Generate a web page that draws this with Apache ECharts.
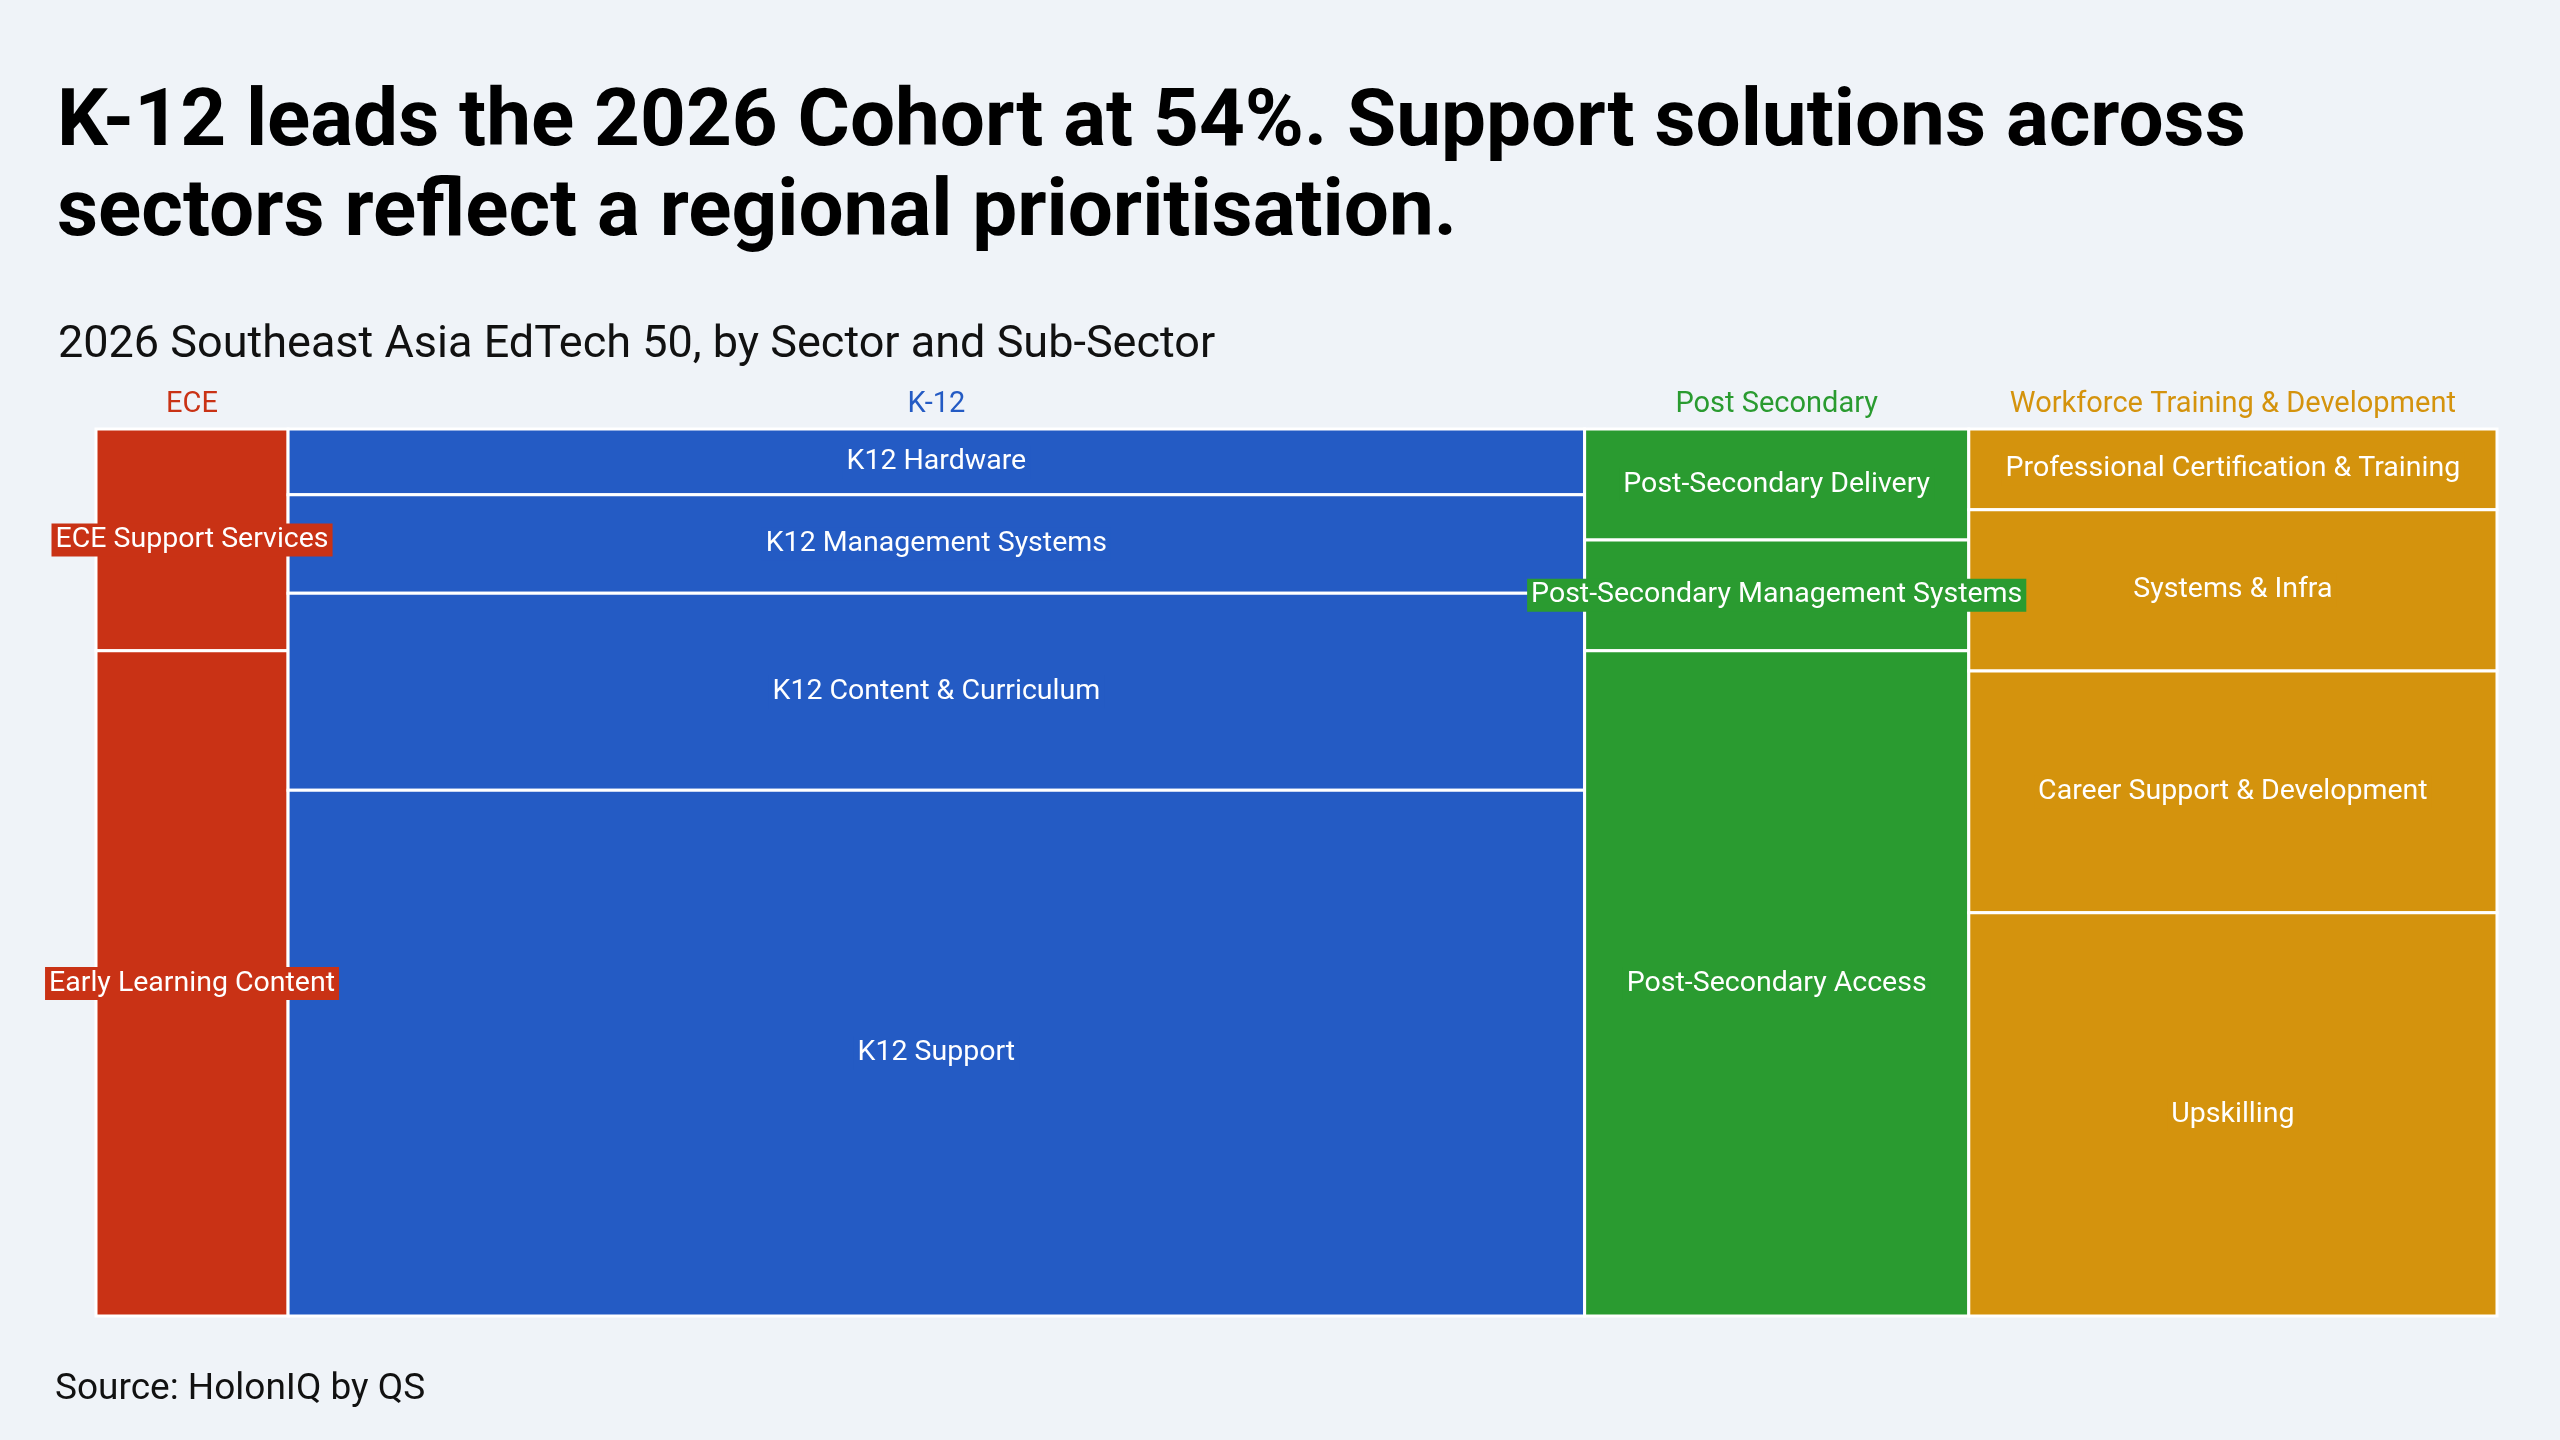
<!DOCTYPE html>
<html>
<head>
<meta charset="utf-8">
<script src="https://cdn.jsdelivr.net/npm/echarts@6/dist/echarts.min.js"></script>
<style>
  html, body { margin: 0; padding: 0; background: #eff3f8; }
  #chart { width: 2560px; height: 1440px; }
</style>
</head>
<body>
<div id="chart"></div>
<script>
// sectors of the cohort, left to right
const sectors = ['ECE', 'K-12', 'Post Secondary', 'Workforce Training & Development'];

// sub-sectors of each sector, top to bottom
const subSectors = [
  ['ECE Support Services', 'Early Learning Content'],
  ['K12 Hardware', 'K12 Management Systems', 'K12 Content & Curriculum', 'K12 Support'],
  ['Post-Secondary Delivery', 'Post-Secondary Management Systems', 'Post-Secondary Access'],
  ['Professional Certification & Training', 'Systems & Infra', 'Career Support & Development', 'Upskilling']
];

// number of companies in each sub-sector (50 in total)
const subCounts = [
  [1, 3],
  [2, 3, 6, 16],
  [1, 1, 6],
  [1, 2, 3, 5]
];

const SECTOR_COLORS = ['#c93215', '#245bc4', '#2a9b30', '#d4930d'];
const FONT = 'Roboto, "Noto Sans", sans-serif';

// marimekko cells: [x0, x1, y0, y1, sectorIndex, name]
const cells = [];
const sectorSpans = [];
let xStart = 0;
sectors.forEach((s, i) => {
  const total = subCounts[i].reduce((a, b) => a + b, 0);
  let yStart = 0;
  subCounts[i].forEach((c, j) => {
    cells.push([xStart, xStart + total, yStart / total, (yStart + c) / total, i, subSectors[i][j]]);
    yStart += c;
  });
  sectorSpans.push([xStart, xStart + total, i]);
  xStart += total;
});
const grandTotal = xStart;

const chart = echarts.init(document.getElementById('chart'), null, { renderer: 'canvas' });

chart.setOption({
  backgroundColor: '#eff3f8',
  animation: false,
  title: [
    {
      text: 'K-12 leads the 2026 Cohort at 54%. Support solutions across\nsectors reflect a regional prioritisation.',
      left: 52,
      top: 75,
      textStyle: { fontFamily: FONT, fontWeight: 'bold', fontSize: 80, lineHeight: 90, color: '#000' }
    },
    {
      text: '2026 Southeast Asia EdTech 50, by Sector and Sub-Sector',
      left: 53,
      top: 316,
      textStyle: { fontFamily: FONT, fontWeight: 'normal', fontSize: 45, lineHeight: 50, color: '#111' }
    },
    {
      text: 'Source: HolonIQ by QS',
      left: 50,
      top: 1363,
      textStyle: { fontFamily: FONT, fontWeight: 'normal', fontSize: 37, lineHeight: 44, color: '#111' }
    }
  ],
  grid: { left: 96, right: 63, top: 429, bottom: 124 },
  xAxis: { type: 'value', min: 0, max: grandTotal, show: false },
  yAxis: { type: 'value', min: 0, max: 1, inverse: true, show: false },
  series: [
    {
      // rectangles
      type: 'custom',
      data: cells.map((c) => c.slice(0, 5)),
      z: 2,
      renderItem: (params, api) => {
        const p0 = api.coord([api.value(0), api.value(2)]);
        const p1 = api.coord([api.value(1), api.value(3)]);
        return {
          type: 'rect',
          shape: { x: p0[0], y: p0[1], width: p1[0] - p0[0], height: p1[1] - p0[1] },
          style: { fill: SECTOR_COLORS[api.value(4)], stroke: '#ffffff', lineWidth: 3 }
        };
      }
    },
    {
      // sub-sector labels, drawn over every rectangle so overflowing ones stay visible
      type: 'custom',
      data: cells.map((c) => c.slice(0, 5)),
      z: 5,
      silent: true,
      renderItem: (params, api) => {
        const p0 = api.coord([api.value(0), api.value(2)]);
        const p1 = api.coord([api.value(1), api.value(3)]);
        const color = SECTOR_COLORS[api.value(4)];
        return {
          type: 'text',
          x: (p0[0] + p1[0]) / 2,
          y: (p0[1] + p1[1]) / 2,
          style: {
            text: cells[params.dataIndex][5],
            fill: '#ffffff',
            fontFamily: FONT,
            fontSize: 28.5,
            align: 'center',
            verticalAlign: 'middle',
            backgroundColor: color,
            padding: [2, 4, 2, 4]
          }
        };
      }
    },
    {
      // sector labels above each column
      type: 'custom',
      data: sectorSpans,
      z: 5,
      silent: true,
      renderItem: (params, api) => {
        const p0 = api.coord([api.value(0), 0]);
        const p1 = api.coord([api.value(1), 0]);
        return {
          type: 'text',
          x: (p0[0] + p1[0]) / 2,
          y: p0[1] - 24,
          style: {
            text: sectors[api.value(2)],
            fill: SECTOR_COLORS[api.value(2)],
            fontFamily: FONT,
            fontSize: 29,
            align: 'center',
            verticalAlign: 'middle'
          }
        };
      }
    }
  ]
});
</script>
</body>
</html>
